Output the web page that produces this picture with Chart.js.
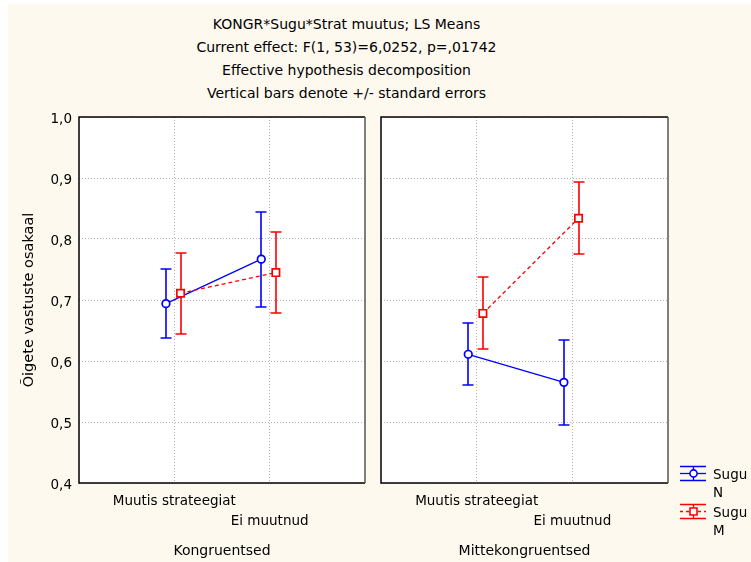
<!DOCTYPE html>
<html>
<head>
<meta charset="utf-8">
<script src="https://cdn.jsdelivr.net/npm/chart.js@4.4.0/dist/chart.umd.min.js"></script>
<style>
	body { margin: 0; background: #fff; }
	#wrap { position: relative; width: 751px; height: 562px; overflow: hidden; background: #fff; }
	#bg { position: absolute; left: 8px; top: 4px; right: 0; bottom: 0; background: #fef9ef; }
	#title { position: absolute; left: 0; top: 13px; width: 693px; text-align: center;
		font: 14px "DejaVu Sans", sans-serif; line-height: 23px; color: #000; }
	canvas { position: absolute; top: 0; }
</style>
</head>
<body>
<div id="wrap">
	<div id="bg"></div>
	<div id="title"></div>
	<canvas id="left" width="373" height="562" style="left:0"></canvas>
	<canvas id="right" width="378" height="562" style="left:373px"></canvas>
</div>
<script>
const titleLines = [
	"KONGR*Sugu*Strat muutus; LS Means",
	"Current effect: F(1, 53)=6,0252, p=,01742",
	"Effective hypothesis decomposition",
	"Vertical bars denote +/- standard errors"
];
const yTitle = "Õigete vastuste osakaal";
const strategies = ["Muutis strateegiat", "Ei muutnud"];
const groups = ["Kongruentsed", "Mittekongruentsed"];
const legendTitle = "Sugu";
const seriesNames = ["N", "M"];
const yTicks = [0.4, 0.5, 0.6, 0.7, 0.8, 0.9, 1.0];

// LS means and standard errors
const kongrN = [0.694, 0.767];
const kongrNse = [0.057, 0.078];
const kongrM = [0.711, 0.745];
const kongrMse = [0.066, 0.066];
const mitteN = [0.611, 0.565];
const mitteNse = [0.051, 0.070];
const mitteM = [0.678, 0.834];
const mitteMse = [0.059, 0.059];

const blue = "#0000ff";
const red = "#ff0000";
const gridCol = "#b4b4b4";
const offN = -0.088;
const offM = 0.065;

document.getElementById("title").innerHTML = titleLines.map(t => "<div>" + t + "</div>").join("");

Chart.defaults.font.family = "'DejaVu Sans', sans-serif";
Chart.defaults.color = "#000";

const frame = {
	id: "frame",
	beforeDraw(chart) {
		const a = chart.chartArea, ctx = chart.ctx;
		ctx.save();
		ctx.fillStyle = "#fff";
		ctx.fillRect(a.left, a.top, a.right - a.left, a.bottom - a.top);
		ctx.restore();
	},
	afterDraw(chart) {
		const a = chart.chartArea, ctx = chart.ctx;
		ctx.save();
		ctx.lineWidth = 1.5;
		ctx.strokeStyle = "#000";
		ctx.beginPath();
		ctx.moveTo(a.right, a.top); ctx.lineTo(a.left, a.top);
		ctx.lineTo(a.left, a.bottom); ctx.lineTo(a.right, a.bottom);
		ctx.stroke();
		ctx.strokeStyle = "#555";
		ctx.beginPath();
		ctx.moveTo(a.right, a.top); ctx.lineTo(a.right, a.bottom);
		ctx.stroke();
		ctx.restore();
	}
};

const errorBars = {
	id: "errorBars",
	beforeDatasetsDraw(chart) {
		const ctx = chart.ctx;
		const xs = chart.scales.x, ys = chart.scales.y;
		chart.data.datasets.forEach(ds => {
			ctx.save();
			ctx.strokeStyle = ds.borderColor;
			ctx.lineWidth = 1.6;
			ds.data.forEach((p, i) => {
				const x = Math.round(xs.getPixelForValue(p.x));
				const y1 = Math.round(ys.getPixelForValue(p.y + ds.se[i]));
				const y2 = Math.round(ys.getPixelForValue(p.y - ds.se[i]));
				ctx.beginPath();
				ctx.moveTo(x, y1); ctx.lineTo(x, y2);
				ctx.moveTo(x - 5.5, y1); ctx.lineTo(x + 5.5, y1);
				ctx.moveTo(x - 5.5, y2); ctx.lineTo(x + 5.5, y2);
				ctx.stroke();
			});
			ctx.restore();
		});
	}
};

const sideLegend = {
	id: "sideLegend",
	afterDraw(chart) {
		const ctx = chart.ctx;
		const x0 = chart.chartArea.right + 12;
		const entries = [
			{ name: seriesNames[0], color: blue, dash: [], style: "circle", y: 473 },
			{ name: seriesNames[1], color: red, dash: [3, 3], style: "rect", y: 511 }
		];
		entries.forEach(e => {
			const cx = x0 + 13;
			ctx.save();
			ctx.strokeStyle = e.color;
			ctx.lineWidth = 1.3;
			ctx.beginPath();
			ctx.moveTo(x0, e.y - 6.5); ctx.lineTo(x0 + 26, e.y - 6.5);
			ctx.moveTo(x0, e.y + 7.5); ctx.lineTo(x0 + 26, e.y + 7.5);
			ctx.moveTo(cx + 0.5, e.y - 6.5); ctx.lineTo(cx + 0.5, e.y + 7.5);
			ctx.stroke();
			ctx.setLineDash(e.dash);
			ctx.beginPath();
			ctx.moveTo(x0, e.y + 0.5); ctx.lineTo(x0 + 26, e.y + 0.5);
			ctx.stroke();
			ctx.setLineDash([]);
			ctx.fillStyle = "#fff";
			ctx.lineWidth = 1.6;
			ctx.beginPath();
			if (e.style === "circle") ctx.arc(cx + 0.5, e.y + 0.5, 3.6, 0, Math.PI * 2);
			else ctx.rect(cx - 3, e.y - 3, 7, 7);
			ctx.fill();
			ctx.stroke();
			ctx.fillStyle = "#000";
			ctx.font = "13.5px 'DejaVu Sans'";
			ctx.textBaseline = "middle";
			ctx.textAlign = "left";
			ctx.fillText(legendTitle, x0 + 33, e.y + 2);
			ctx.fillText(e.name, x0 + 33, e.y + 20);
			ctx.restore();
		});
	}
};

const makePanel = (id, group, nVals, nSe, mVals, mSe, showY, padRight, extra) => {
	return new Chart(document.getElementById(id), {
		type: "scatter",
		data: {
			datasets: [{
				label: seriesNames[0],
				data: nVals.map((v, i) => ({ x: i + 1 + offN, y: v })),
				se: nSe,
				showLine: true,
				borderColor: blue,
				borderWidth: 1.3,
				pointStyle: "circle",
				pointRadius: 3.8,
				pointBorderWidth: 1.7,
				pointBackgroundColor: "#fff",
				pointBorderColor: blue,
				order: 1
			}, {
				label: seriesNames[1],
				data: mVals.map((v, i) => ({ x: i + 1 + offM, y: v })),
				se: mSe,
				showLine: true,
				borderColor: red,
				borderWidth: 1.3,
				borderDash: [4, 3],
				pointStyle: "rect",
				pointRadius: 5.2,
				pointBorderWidth: 1.7,
				pointBackgroundColor: "#fff",
				pointBorderColor: red,
				order: 0
			}]
		},
		options: {
			responsive: false,
			animation: false,
			layout: { padding: { top: 117, right: padRight, bottom: 0, left: 0 } },
			plugins: { legend: { display: false }, tooltip: { enabled: false } },
			scales: {
				x: {
					type: "linear", min: 0, max: 3,
					afterBuildTicks: s => { s.ticks = strategies.map((c, i) => ({ value: i + 1 })); },
					afterFit: s => { s.height = 79; },
					grid: { color: gridCol, drawTicks: false },
					border: { display: false, dash: [1, 2] },
					ticks: {
						autoSkip: false, maxRotation: 0, minRotation: 0, padding: 9,
						font: { size: 13.5, lineHeight: 1.444 },
						callback: (v, i) => i === 0 ? strategies[0] : ["", strategies[1]]
					},
					title: { display: true, text: group, font: { size: 14 }, padding: { top: 0, bottom: 2 } }
				},
				y: {
					min: 0.4, max: 1.0,
					afterBuildTicks: s => { s.ticks = yTicks.map(v => ({ value: v })); },
					afterFit: s => { s.width = showY ? 79 : 8; },
					grid: { color: gridCol, drawTicks: false },
					border: { display: false, dash: [1, 2] },
					ticks: {
						display: showY, padding: 7, labelOffset: 2,
						font: { size: 13.5 },
						callback: v => v.toFixed(1).replace(".", ",")
					},
					title: { display: showY, text: yTitle, font: { size: 14.5 }, padding: { top: 21, bottom: 0 } }
				}
			}
		},
		plugins: [frame, errorBars, ...extra]
	});
};

makePanel("left", groups[0], kongrN, kongrNse, kongrM, kongrMse, true, 8, []);
makePanel("right", groups[1], mitteN, mitteNse, mitteM, mitteMse, false, 83, [sideLegend]);
</script>
</body>
</html>
